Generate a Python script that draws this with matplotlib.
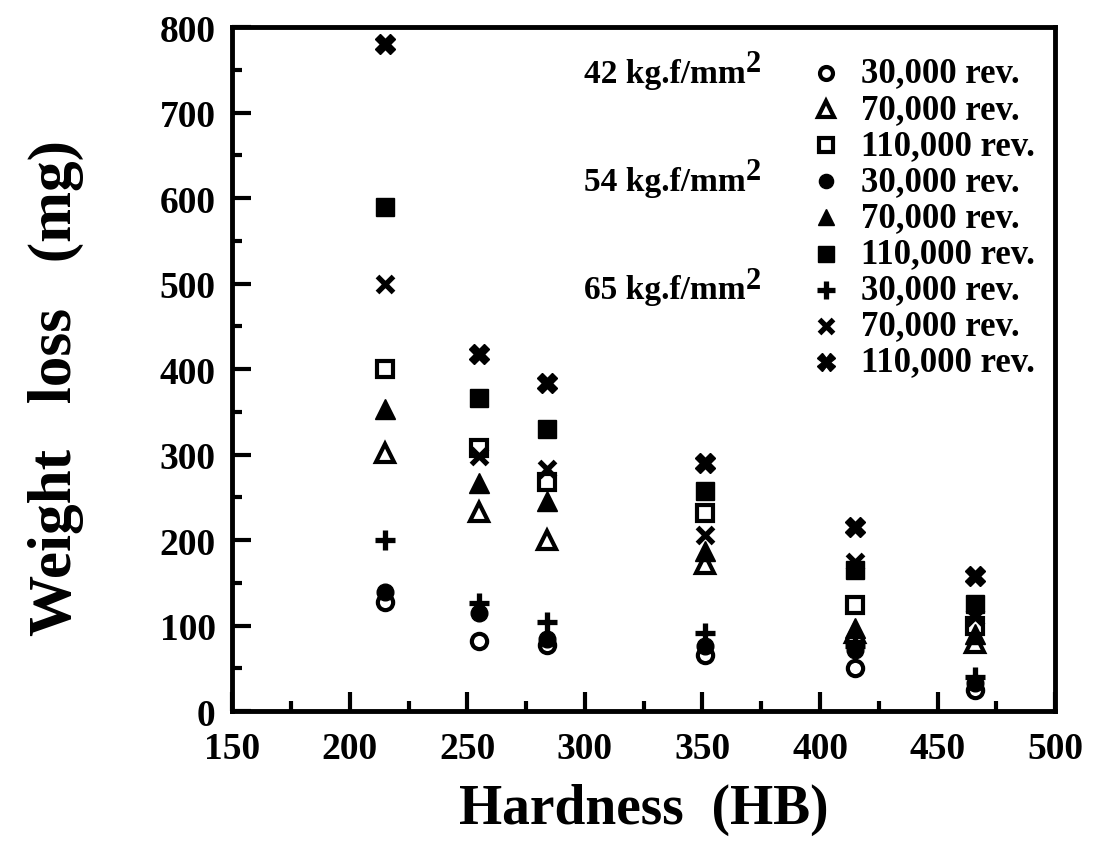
import matplotlib
matplotlib.use("Agg")
import matplotlib.pyplot as plt
from matplotlib.ticker import MultipleLocator

plt.rcParams['font.family'] = ['Liberation Serif', 'DejaVu Serif']
plt.rcParams['font.weight'] = 'bold'

# hardness of the six steels (HB)
hardness = [215, 255, 284, 351, 415, 466]

# weight loss (mg), contact stress 42 kg.f/mm2
loss_42_30k = [128, 82, 78, 66, 50, 25]
loss_42_70k = [302, 233, 200, 172, 92, 80]
loss_42_110k = [400, 308, 268, 232, 124, 100]
# 54 kg.f/mm2
loss_54_30k = [140, 115, 85, 76, 72, 33]
loss_54_70k = [353, 267, 246, 187, 97, 90]
loss_54_110k = [590, 366, 330, 258, 165, 125]
# 65 kg.f/mm2
loss_65_30k = [200, 127, 104, 92, 76, 40]
loss_65_70k = [500, 298, 283, 206, 175, 110]
loss_65_110k = [780, 418, 384, 290, 216, 158]

revs = ["30,000 rev.", "70,000 rev.", "110,000 rev."]
stresses = ["42 kg.f/mm", "54 kg.f/mm", "65 kg.f/mm"]

series = [
    (loss_42_30k, dict(marker='o', mfc='white', ms=11, mew=3)),
    (loss_42_70k, dict(marker='^', mfc='white', ms=13, mew=3)),
    (loss_42_110k, dict(marker='s', mfc='white', ms=12, mew=3)),
    (loss_54_30k, dict(marker='o', mfc='black', ms=12, mew=1)),
    (loss_54_70k, dict(marker='^', mfc='black', ms=14, mew=1)),
    (loss_54_110k, dict(marker='s', mfc='black', ms=13, mew=1)),
    (loss_65_30k, dict(marker='+', ms=15, mew=3.8)),
    (loss_65_70k, dict(marker='x', ms=12, mew=3.8)),
    (loss_65_110k, dict(marker='X', mfc='black', ms=15, mew=1)),
]

fig = plt.figure(figsize=(11.06, 8.54), dpi=100)
ax = fig.add_axes([0.21, 0.166, 0.744, 0.801])

for vals, st in series:
    ax.plot(hardness, vals, ls='none', color='black', mec='black', **st)

ax.set_xlim(150, 500)
ax.set_ylim(0, 800)
ax.xaxis.set_major_locator(MultipleLocator(50))
ax.xaxis.set_minor_locator(MultipleLocator(25))
ax.yaxis.set_major_locator(MultipleLocator(100))
ax.yaxis.set_minor_locator(MultipleLocator(50))
ax.tick_params(which='major', direction='in', length=14, width=3, labelsize=27)
ax.tick_params(axis='x', pad=14)
ax.tick_params(axis='y', pad=12)
ax.tick_params(which='minor', direction='in', length=7, width=3)
ax.tick_params(top=False, right=False, which='both')
for s in ax.spines.values():
    s.set_linewidth(3.5)
for lab in ax.get_xticklabels() + ax.get_yticklabels():
    lab.set_fontweight('bold')

ax.set_xlabel("Hardness  (HB)", fontsize=40, fontweight='bold', labelpad=12)
ax.set_ylabel("Weight   loss   (mg)", fontsize=44, fontweight='bold')
ax.yaxis.set_label_coords(-0.18, 0.474)

# legend drawn by hand in three groups
row0, dy = 0.933, 0.0528
for i, (vals, st) in enumerate(series):
    y = row0 - i * dy
    leg_st = dict(st)
    leg_st['ms'] = st['ms'] * 0.85
    ax.plot([0.722], [y], transform=ax.transAxes, ls='none', color='black',
            mec='black', clip_on=False, **leg_st)
    ax.text(0.764, y, revs[i % 3], transform=ax.transAxes, fontsize=25,
            fontweight='bold', va='center', ha='left')
    if i % 3 == 0:
        ax.text(0.6235, y, stresses[i // 3], transform=ax.transAxes,
                fontsize=24, fontweight='bold', va='center', ha='right')
        ax.text(0.6245, y + 0.014, "2", transform=ax.transAxes,
                fontsize=22, fontweight='bold', va='center', ha='left')

plt.savefig('out.png', dpi=100)
